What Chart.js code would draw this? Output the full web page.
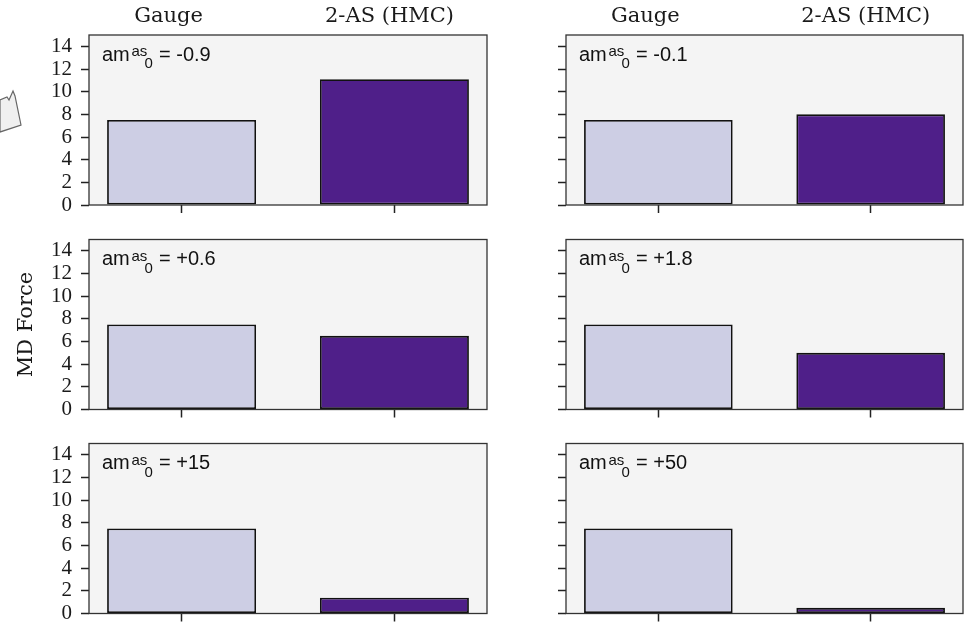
<!DOCTYPE html>
<html>
<head>
<meta charset="utf-8">
<script src="https://cdn.jsdelivr.net/npm/chart.js@4.4.1/dist/chart.umd.min.js"></script>
<style>
  html, body { margin: 0; padding: 0; background: #fff; }
  #fig { position: relative; width: 969px; height: 626px; overflow: hidden; }
  #fig canvas, #fig svg { position: absolute; left: 0; top: 0; }
</style>
</head>
<body>
<div id="fig">
  <svg width="969" height="626">
    <polygon points="0,100 7,97 9,100 13,91 15,96 21,125 0,132" fill="#f0f0f0" stroke="#666" stroke-width="1.2"/>
  </svg>
  <canvas id="p0" width="969" height="660"></canvas>
  <canvas id="p1" width="969" height="660"></canvas>
  <canvas id="p2" width="969" height="660"></canvas>
  <canvas id="p3" width="969" height="660"></canvas>
  <canvas id="p4" width="969" height="660"></canvas>
  <canvas id="p5" width="969" height="660"></canvas>
</div>
<script>
// Column headings and bar positions
const columns = ['Gauge', '2-AS (HMC)'];
const xPositions = [0, 1];

// MD force per panel (one panel per mass value)
const gaugeForce = [7.5, 7.5, 7.5, 7.5, 7.5, 7.5];
const asForce = [11.1, 8.0, 6.5, 5.0, 1.4, 0.5];
const massLabels = ['-0.9', '-0.1', '+0.6', '+1.8', '+15', '+50'];

// Y tick values
const yTicks = [0, 2, 4, 6, 8, 10, 12, 14];

const barColors = ['#cdcee4', '#4f1f89'];
const serif = '"DejaVu Serif", serif';
const tickSerif = '"Liberation Serif", serif';
const sans = '"Liberation Sans", Arial, sans-serif';

const W = 969, H = 660;
const rowTops = [35, 239.5, 443.5];
const panelH = 170;
const colLeft = [89, 566];
const colRight = [487, 963];
const yAxisW = 79, xAxisH = 12;

const panelPlugin = {
  id: 'panelDecor',
  beforeDraw(chart) {
    const { ctx, chartArea: a } = chart;
    ctx.save();
    ctx.fillStyle = '#f4f4f4';
    ctx.fillRect(a.left, a.top, a.right - a.left, a.bottom - a.top);
    ctx.restore();
  },
  afterDatasetsDraw(chart) {
    const { ctx, chartArea: a } = chart;
    ctx.save();
    ctx.strokeStyle = '#333';
    ctx.lineWidth = 1.3;
    ctx.strokeRect(a.left, a.top, a.right - a.left, a.bottom - a.top);
    ctx.restore();
  },
  afterDraw(chart, args, opts) {
    const { ctx, chartArea: a } = chart;
    ctx.save();
    ctx.fillStyle = '#111';
    ctx.textBaseline = 'alphabetic';
    ctx.textAlign = 'left';
    // am^as_0 = value
    const x = a.left + 13, y = a.top + 25.5;
    ctx.font = '20px ' + sans;
    ctx.fillText('am', x, y);
    ctx.font = '15px ' + sans;
    ctx.fillText('as', x + 29.5, y - 4.5);
    ctx.fillText('0', x + 42.5, y + 7.5);
    ctx.font = '20px ' + sans;
    ctx.fillText('= ' + opts.mass, x + 57, y);
    // column headings on the top row
    if (opts.headings) {
      ctx.fillStyle = '#1a1a1a';
      ctx.textAlign = 'center';
      ctx.font = '21px ' + serif;
      const w = a.right - a.left;
      ctx.fillText(columns[0], a.left + 0.2 * w, a.top - 13);
      ctx.fillText(columns[1], a.left + 0.755 * w, a.top - 13);
    }
    ctx.restore();
  }
};

for (let i = 0; i < 6; i++) {
  const col = i % 2, row = Math.floor(i / 2);
  const L = colLeft[col], R = colRight[col], T = rowTops[row], B = T + panelH;
  new Chart(document.getElementById('p' + i), {
    type: 'bar',
    data: {
      datasets: [{
        data: xPositions.map((x, j) => ({ x, y: [gaugeForce[i], asForce[i]][j] })),
        backgroundColor: barColors,
        borderColor: '#111',
        borderWidth: 1.8,
        borderSkipped: false,
        barPercentage: 0.7,
        categoryPercentage: 1
      }]
    },
    options: {
      responsive: false,
      devicePixelRatio: 1,
      animation: false,
      events: [],
      layout: { padding: { left: L - yAxisW, right: W - R, top: T, bottom: H - B - xAxisH } },
      plugins: {
        legend: { display: false },
        tooltip: { enabled: false },
        panelDecor: { mass: massLabels[i], headings: row === 0 }
      },
      scales: {
        x: {
          type: 'linear',
          min: -0.435,
          max: 1.435,
          offset: false,
          afterBuildTicks: s => { s.ticks = xPositions.map(v => ({ value: v })); },
          afterFit: s => { s.height = xAxisH; },
          ticks: { display: false, autoSkip: false },
          border: { display: false },
          grid: { offset: false, drawOnChartArea: false, drawTicks: true, tickLength: 8, tickWidth: 1.5, tickColor: '#222' }
        },
        y: {
          min: 0,
          max: 15,
          afterBuildTicks: s => { s.ticks = yTicks.map(v => ({ value: v })); },
          afterFit: s => { s.width = yAxisW; },
          ticks: { display: col === 0, autoSkip: false, font: { family: tickSerif, size: 21 }, color: '#1a1a1a', padding: 9 },
          border: { display: false },
          grid: { drawOnChartArea: false, drawTicks: true, tickLength: 8, tickWidth: 1.5, tickColor: '#222' },
          title: {
            display: row === 1 && col === 0,
            text: 'MD Force',
            font: { family: 'DejaVu Serif', size: 21 },
            color: '#1a1a1a',
            padding: { top: 3.5, bottom: 0 }
          }
        }
      }
    },
    plugins: [panelPlugin]
  });
}
</script>
</body>
</html>
